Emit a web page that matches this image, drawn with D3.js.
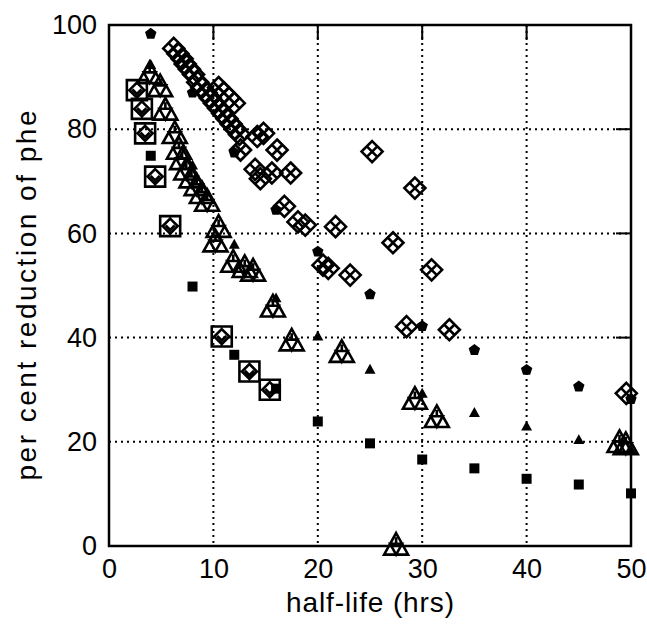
<!DOCTYPE html>
<html>
<head>
<meta charset="utf-8">
<script src="https://cdn.jsdelivr.net/npm/d3@7"></script>
<style>
  body { margin: 0; background: #fff; }
  text { font-family: "Liberation Sans", Arial, sans-serif; fill: #000; }
</style>
</head>
<body>
<svg id="chart" width="647" height="625"></svg>
<script>
// half-life (hrs) of the filled reference markers, shared by the three filled series
const filledHalfLife = [4, 8, 12, 16, 20, 25, 30, 35, 40, 45, 50]
const pentagonVals = [98.3, 87, 75.5, 64.5, 56.5, 48.3, 42.2, 37.6, 33.8, 30.6, 28.2]
const triangleVals = [92.3, 73, 57.8, 47.5, 40.2, 33.8, 29.2, 25.5, 22.9, 20.3, 18.4]
const squareVals = [74.9, 49.8, 36.7, 30.2, 23.9, 19.7, 16.6, 14.9, 12.9, 11.8, 10.1]

// open squares
const openSquareX = [2.67, 3.15, 3.46, 4.42, 5.86, 10.8, 13.45, 15.4]
const openSquareY = [87.5, 83.9, 79.2, 70.9, 61.4, 40.2, 33.5, 30.0]

// open triangles
const openTriX = [3.9, 4.9, 5.4, 6.3, 6.7, 7.0, 7.4, 7.9, 8.4, 8.9, 9.4, 10.5, 10.2, 11.9, 13.0, 13.8, 15.7, 17.5, 22.3, 29.3, 31.4, 27.5, 48.9, 49.5]
const openTriY = [90.5, 88, 83.5, 79, 76, 74, 72, 70.5, 69, 67.5, 66, 61, 58.2, 54.3, 53.3, 52.6, 45.7, 39.2, 37, 28, 24.5, 0, 19.7, 19.3]

// open diamonds
const openDiaX = [6.2, 6.6, 7.0, 7.3, 7.7, 8.1, 8.5, 8.9, 9.3, 9.7, 10.1, 10.5, 10.9, 11.3, 11.7, 12.1, 12.5,
  10.5, 11.0, 11.5, 12.0, 12.6, 14.2, 14.8, 16.1, 14.0, 14.5, 15.6, 17.4, 16.8, 18.1, 18.8, 21.7,
  20.5, 21.0, 23.1, 25.2, 27.2, 29.3, 30.9, 28.5, 32.6, 49.55]
const openDiaY = [95.5, 94.5, 93.5, 92.5, 91.5, 90.5, 89, 88, 87, 86, 85, 84, 83, 82, 81, 80, 79,
  88, 87, 86, 85, 76, 78.6, 79.2, 76, 72.3, 70.5, 71.6, 71.6, 65.2, 62.2, 61.6, 61.3,
  53.9, 53.3, 52, 75.7, 58.2, 68.7, 53, 42.1, 41.5, 29.3]

const xTicks = [0, 10, 20, 30, 40, 50]
const yTicks = [0, 20, 40, 60, 80, 100]

const margin = { left: 109, right: 16, top: 25, bottom: 79 }
const width = 647, height = 625
const innerW = width - margin.left - margin.right
const innerH = height - margin.top - margin.bottom

const svg = d3.select('#chart')
const g = svg.append('g').attr('transform', `translate(${margin.left},${margin.top})`)

const x = d3.scaleLinear().domain([0, 50]).range([0, innerW])
const y = d3.scaleLinear().domain([0, 100]).range([innerH, 0])

// dotted grid
g.append('g').selectAll('line')
  .data(xTicks.slice(1, -1))
  .join('line')
  .attr('x1', d => x(d)).attr('x2', d => x(d))
  .attr('y1', 0).attr('y2', innerH)
  .attr('stroke', '#000').attr('stroke-width', 2)
  .attr('stroke-dasharray', '2,4')
g.append('g').selectAll('line')
  .data(yTicks.slice(1, -1))
  .join('line')
  .attr('y1', d => y(d)).attr('y2', d => y(d))
  .attr('x1', 0).attr('x2', innerW)
  .attr('stroke', '#000').attr('stroke-width', 2)
  .attr('stroke-dasharray', '2,4')

// tick labels via axes, domain path removed
const xAxis = g.append('g')
  .attr('transform', `translate(0,${innerH})`)
  .call(d3.axisBottom(x).tickValues(xTicks).tickSize(0).tickPadding(12))
xAxis.select('.domain').remove()
xAxis.selectAll('text').attr('font-size', 27).attr('font-family', '"Liberation Sans", Arial, sans-serif')
  .attr('dy', '0.75em')

const yAxis = g.append('g')
  .call(d3.axisLeft(y).tickValues(yTicks).tickSize(0).tickPadding(12))
yAxis.select('.domain').remove()
yAxis.selectAll('text').attr('font-size', 27).attr('font-family', '"Liberation Sans", Arial, sans-serif')

// inward ticks on top and right
g.append('g').selectAll('line')
  .data(xTicks.slice(1, -1))
  .join('line')
  .attr('x1', d => x(d)).attr('x2', d => x(d))
  .attr('y1', 0).attr('y2', 15)
  .attr('stroke', '#000').attr('stroke-width', 2)
g.append('g').selectAll('line')
  .data(yTicks.slice(1, -1))
  .join('line')
  .attr('y1', d => y(d)).attr('y2', d => y(d))
  .attr('x1', innerW - 15).attr('x2', innerW)
  .attr('stroke', '#000').attr('stroke-width', 2)

// frame
g.append('rect')
  .attr('x', 0).attr('y', 0).attr('width', innerW).attr('height', innerH)
  .attr('fill', 'none').attr('stroke', '#000').attr('stroke-width', 2.5)

// marker paths
function squarePath(s) {
  const p = d3.path()
  p.rect(-s, -s, 2 * s, 2 * s)
  // inner diamond through edge midpoints, shrunk a little
  const k = s * 0.75
  p.moveTo(0, -k); p.lineTo(k, 0); p.lineTo(0, k); p.lineTo(-k, 0); p.closePath()
  p.moveTo(-k * 0.6, -k * 0.1); p.lineTo(0, k * 0.5); p.lineTo(k * 0.6, -k * 0.1)
  return p.toString()
}
function trianglePath(s) {
  const p = d3.path()
  const h = s * 1.8
  const top = -h * 0.6, bot = h * 0.4
  p.moveTo(0, top); p.lineTo(s, bot); p.lineTo(-s, bot); p.closePath()
  const my = (top + bot) / 2
  p.moveTo(-s / 2, my); p.lineTo(s / 2, my); p.lineTo(0, bot); p.closePath()
  p.moveTo(0, top + h * 0.2); p.lineTo(0, my)
  return p.toString()
}
function diamondPath(s) {
  const p = d3.path()
  p.moveTo(0, -s); p.lineTo(s, 0); p.lineTo(0, s); p.lineTo(-s, 0); p.closePath()
  p.moveTo(-s / 2, -s / 2); p.lineTo(s / 2, s / 2)
  p.moveTo(s / 2, -s / 2); p.lineTo(-s / 2, s / 2)
  return p.toString()
}
function pentagonPath(r) {
  const p = d3.path()
  for (let i = 0; i < 5; i++) {
    const a = -Math.PI / 2 + i * 2 * Math.PI / 5
    if (i === 0) p.moveTo(r * Math.cos(a), r * Math.sin(a))
    else p.lineTo(r * Math.cos(a), r * Math.sin(a))
  }
  p.closePath()
  return p.toString()
}
function filledTriPath(s) {
  const p = d3.path()
  p.moveTo(0, -s * 1.1); p.lineTo(s, s * 0.7); p.lineTo(-s, s * 0.7); p.closePath()
  return p.toString()
}

const marks = g.append('g')

function openSeries(xs, ys, d) {
  marks.append('g').selectAll('path')
    .data(xs.map((v, i) => [v, ys[i]]))
    .join('path')
    .attr('transform', p => `translate(${x(p[0])},${y(p[1])})`)
    .attr('d', d)
    .attr('fill', 'none').attr('stroke', '#000').attr('stroke-width', 2.6)
    .attr('stroke-linejoin', 'miter')
}
openSeries(openDiaX, openDiaY, diamondPath(10.5))
openSeries(openTriX, openTriY, trianglePath(12))
openSeries(openSquareX, openSquareY, squarePath(10))

function filledSeries(vals, d) {
  marks.append('g').selectAll('path')
    .data(filledHalfLife.map((v, i) => [v, vals[i]]))
    .join('path')
    .attr('transform', p => `translate(${x(p[0])},${y(p[1])})`)
    .attr('d', d)
    .attr('fill', '#000')
}
filledSeries(pentagonVals, pentagonPath(6))
filledSeries(triangleVals, filledTriPath(5.5))
filledSeries(squareVals, 'M-5,-5H5V5H-5Z')

// axis titles
svg.append('text')
  .attr('x', margin.left + innerW / 2).attr('y', 612)
  .attr('text-anchor', 'middle')
  .attr('font-size', 28)
  .attr('textLength', 168).attr('lengthAdjust', 'spacing')
  .text('half-life (hrs)')

svg.append('text')
  .attr('transform', `translate(36,${margin.top + innerH / 2 + 10}) rotate(-90)`)
  .attr('text-anchor', 'middle')
  .attr('font-size', 28)
  .attr('textLength', 370).attr('lengthAdjust', 'spacing')
  .text('per cent reduction of phe')
</script>
</body>
</html>
